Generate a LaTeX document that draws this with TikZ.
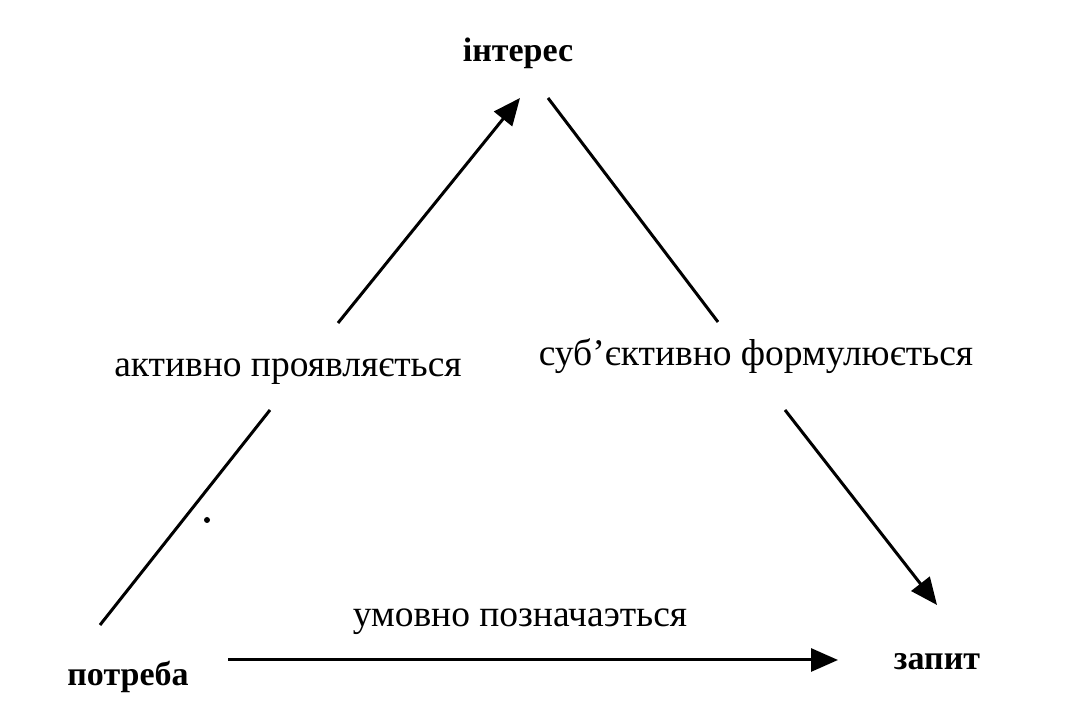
\documentclass[tikz,border=0pt]{standalone}
\usepackage{fontspec}
\setmainfont{Liberation Serif}
\usetikzlibrary{arrows.meta}
\begin{document}
\begin{tikzpicture}[x=1pt,y=1pt,
  term/.style={font=\bfseries\fontsize{34}{40}\selectfont, inner sep=0pt, anchor=base},
  lab/.style={font=\fontsize{37.5}{44}\selectfont, inner sep=0pt, anchor=base},
  conn/.style={line width=3pt},
  arr/.style={conn, -{Triangle[length=27pt,width=23pt]}}]
\useasboundingbox (0,0) rectangle (1080,714);
\node[term] (int) at (518,652) {інтерес};
\node[term] (pot) at (128,28) {потреба};
\node[term] (zap) at (937,44) {запит};
\node[lab] (l1) at (288,337) {активно проявляється};
\node[lab] (l2) at (756,348) {суб’єктивно формулюється};
\node[lab] (l3) at (520,87) {умовно позначаэться};
\coordinate (a1) at (100,89);
\coordinate (a2) at (270,304);
\coordinate (a3) at (338,391);
\coordinate (a4) at (520,616);
\coordinate (b1) at (548,616);
\coordinate (b2) at (718,392);
\coordinate (b3) at (785,304);
\coordinate (b4) at (937,109);
\coordinate (c1) at (228,54);
\coordinate (c2) at (838,54);
\draw[conn] (a1) -- (a2);
\draw[arr] (a3) -- (a4);
\draw[conn] (b1) -- (b2);
\draw[arr] (b3) -- (b4);
\draw[arr] (c1) -- (c2);
\fill (207,194) circle (3pt);
\end{tikzpicture}
\end{document}
